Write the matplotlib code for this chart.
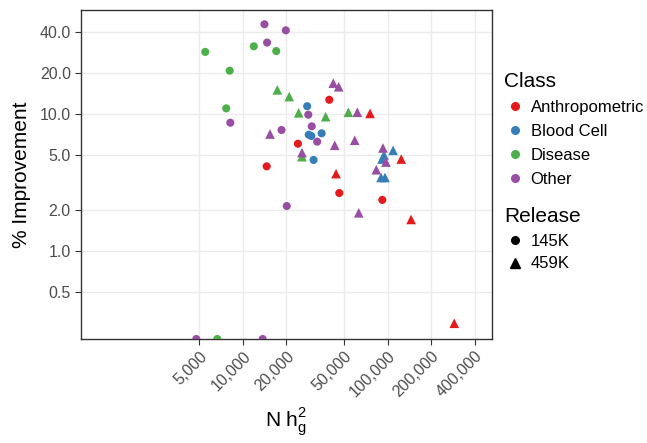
import numpy as np
import matplotlib
matplotlib.use("Agg")
import matplotlib.pyplot as plt
from matplotlib.lines import Line2D

plt.rcParams['font.family'] = ['Liberation Sans', 'DejaVu Sans']

classes = ["Anthropometric", "Blood Cell", "Disease", "Other"]
class_colors = ["#E41A1C", "#377EB8", "#4DAF4A", "#984EA3"]
releases = ["145K", "459K"]

# Anthropometric
anth_145_x = [39500, 24000, 14600, 46300, 91800]
anth_145_y = [12.7, 6.07, 4.15, 2.65, 2.36]
anth_459_x = [75500, 124000, 44000, 145000, 288000]
anth_459_y = [10.1, 4.69, 3.67, 1.70, 0.297]
# Blood Cell
blood_145_x = [27800, 28500, 29700, 35000, 30800]
blood_145_y = [11.4, 7.06, 6.91, 7.23, 4.62]
blood_459_x = [109000, 94300, 91400, 89900, 95800]
blood_459_y = [5.43, 5.02, 4.69, 3.44, 3.44]
# Disease
dis_145_x = [5500, 11900, 17000, 8110, 7680, 6660]
dis_145_y = [28.4, 31.2, 28.8, 20.7, 11.0, 0.0]
dis_459_x = [17300, 20900, 24300, 37300, 53500, 25600]
dis_459_y = [15.0, 13.4, 10.2, 9.56, 10.3, 4.88]
# Other
oth_145_x = [14100, 19800, 14700, 28300, 8190, 29900, 18500, 32600, 20100, 4770, 13700]
oth_145_y = [45.2, 40.8, 33.2, 9.88, 8.64, 8.13, 7.64, 6.28, 2.13, 0.0, 0.0]
oth_459_x = [42100, 45900, 61700, 15400, 43100, 59200, 92800, 25600, 97300, 83400, 63100]
oth_459_y = [16.8, 15.8, 10.3, 7.14, 5.91, 6.43, 5.65, 5.22, 4.46, 3.92, 1.90]

series = {
    ("Anthropometric", "145K"): (anth_145_x, anth_145_y),
    ("Anthropometric", "459K"): (anth_459_x, anth_459_y),
    ("Blood Cell", "145K"): (blood_145_x, blood_145_y),
    ("Blood Cell", "459K"): (blood_459_x, blood_459_y),
    ("Disease", "145K"): (dis_145_x, dis_145_y),
    ("Disease", "459K"): (dis_459_x, dis_459_y),
    ("Other", "145K"): (oth_145_x, oth_145_y),
    ("Other", "459K"): (oth_459_x, oth_459_y),
}

x_ticks = [5000, 10000, 20000, 50000, 100000, 200000, 400000]
x_tick_labels = ["5,000", "10,000", "20,000", "50,000", "100,000", "200,000", "400,000"]
y_ticks = [0.5, 1.0, 2.0, 5.0, 10.0, 20.0, 40.0]
y_tick_labels = ["0.5", "1.0", "2.0", "5.0", "10.0", "20.0", "40.0"]
xlim = (757, 525000)
ylim = (0.228, 57.9)

W, H = 647, 443
fig = plt.figure(figsize=(W / 100, H / 100), dpi=100)
ax = fig.add_axes([80.5 / W, 1 - 339 / H, (492 - 80.5) / W, (339 - 9.5) / H])
ax.set_xscale('log')
ax.set_yscale('log')
ax.set_xlim(*xlim)
ax.set_ylim(*ylim)

markers = {"145K": "o", "459K": "^"}
sizes = {"145K": 34, "459K": 48}
for (cls, rel), (xs, ys) in series.items():
    col = class_colors[classes.index(cls)]
    ys_sq = np.clip(np.array(ys, dtype=float), ylim[0], None)  # squish out-of-range to axis
    ax.scatter(xs, ys_sq, s=sizes[rel], marker=markers[rel], color=col,
               edgecolors='none', zorder=3)

ax.set_xticks(x_ticks)
ax.set_xticklabels(x_tick_labels, rotation=45, ha='right', va='top',
                   rotation_mode='anchor', fontsize=11.5, color='#4D4D4D')
ax.set_yticks(y_ticks)
ax.set_yticklabels(y_tick_labels, fontsize=11.5, color='#4D4D4D')
ax.xaxis.set_minor_locator(matplotlib.ticker.NullLocator())
ax.yaxis.set_minor_locator(matplotlib.ticker.NullLocator())
ax.tick_params(axis='both', which='major', length=4, width=0.8, color='#333333', pad=3)
ax.grid(True, which='major', color='#EBEBEB', linewidth=1.0, zorder=0)
ax.set_axisbelow(True)
for sp in ax.spines.values():
    sp.set_color('#333333')
    sp.set_linewidth(1.0)

ax.set_xlabel(r'N h$_\mathregular{g}^\mathregular{2}$', fontsize=15, labelpad=4)
ax.set_ylabel('% Improvement', fontsize=15, labelpad=6)

class_handles = [Line2D([], [], marker='o', linestyle='none', color=c, markersize=5.5)
                 for c in class_colors]
leg1 = fig.legend(class_handles, classes, loc='upper left',
                  bbox_to_anchor=(504 / W, 1 - 72 / H), frameon=False,
                  title='Class', title_fontsize=15, fontsize=12, alignment='left',
                  handlelength=1.3, handletextpad=0.3, labelspacing=0.54,
                  borderpad=0, borderaxespad=0)
rel_handles = [Line2D([], [], marker='o', linestyle='none', color='black', markersize=5.5),
               Line2D([], [], marker='^', linestyle='none', color='black', markersize=6.5)]
leg2 = fig.legend(rel_handles, releases, loc='upper left',
                  bbox_to_anchor=(504 / W, 1 - 207 / H), frameon=False,
                  title='Release', title_fontsize=15, fontsize=12, alignment='left',
                  handlelength=1.3, handletextpad=0.3, labelspacing=0.46,
                  borderpad=0, borderaxespad=0)

fig.savefig('out.png', dpi=100)
